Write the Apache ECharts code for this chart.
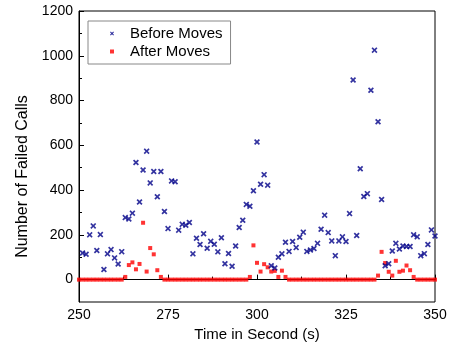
<!DOCTYPE html>
<html>
<head>
<meta charset="utf-8">
<script src="https://cdn.jsdelivr.net/npm/echarts@6/dist/echarts.min.js"></script>
<style>html,body{margin:0;padding:0;background:#fff;}#c{width:450px;height:354px;}</style>
</head>
<body>
<div id="c"></div>
<script>
var beforeSeconds = [251,252,253,254,255,256,257,258,259,260,261,262,263,264,265,266,267,268,269,270,271,272,273,274,275,276,277,278,279,280,281,282,283,284,285,286,287,288,289,290,291,292,293,294,295,296,297,298,299,300,301,302,303,304,305,306,307,308,309,310,311,312,313,314,315,316,317,318,319,320,321,322,323,324,325,326,327,328,329,330,331,332,333,334,335,336,337,338,339,340,341,342,343,344,345,346,347,348,349,350];
var beforeValues = [119,113,200,240,130,201,45,115,134,97,70,125,277,271,297,523,347,490,574,432,483,370,483,304,228,441,437,221,247,243,255,115,185,157,205,140,171,158,124,187,71,117,60,150,233,265,336,328,397,615,426,469,422,62,52,100,115,167,126,170,143,189,212,126,132,139,162,225,288,210,173,107,173,191,170,295,892,197,495,371,384,846,1025,705,358,62,71,128,162,137,150,148,148,200,191,107,116,157,222,195];
var afterSeconds = [250,251,252,253,254,255,256,257,258,259,260,261,262,263,264,265,266,267,268,269,270,271,272,273,274,275,276,277,278,279,280,281,282,283,284,285,286,287,288,289,290,291,292,293,294,295,296,297,298,299,300,301,302,303,304,305,306,307,308,309,310,311,312,313,314,315,316,317,318,319,320,321,322,323,324,325,326,327,328,329,330,331,332,333,334,335,336,337,338,339,340,341,342,343,344,345,346,347,348,349,350];
var afterValues = [0,0,0,0,0,0,0,0,0,0,0,0,0,12,65,77,46,70,254,36,141,113,42,12,0,0,0,0,0,0,0,0,0,0,0,0,0,0,0,0,0,0,0,0,0,0,0,0,12,153,75,36,69,55,36,39,12,40,12,0,0,0,0,0,0,0,0,0,0,0,0,0,0,0,0,0,0,0,0,0,0,0,0,0,18,124,74,35,18,84,35,40,63,42,12,0,0,0,0,0,0];
var xTicks = [250,275,300,325,350];
var yTicks = [0,200,400,600,800,1000,1200];
var yMinorTicks = [100,300,500,700,900,1100];

function pairs(xs, ys){ var o=[]; for(var i=0;i<xs.length;i++){ o.push([xs[i], ys[i]]); } return o; }

var xSym = 'path://M0,2L2,0L5,3L8,0L10,2L7,5L10,8L8,10L5,7L2,10L0,8L3,5Z';
var sqSym = 'path://M0,0L10,0L10,10L0,10Z';
var font = 'Liberation Sans';

var chart = echarts.init(document.getElementById('c'), null, {renderer:'canvas'});
chart.setOption({
  animation: false,
  backgroundColor: '#fff',
  grid: {left: 79, right: 15, top: 11, bottom: 52, show: true, borderColor: '#000', borderWidth: 1, containLabel: false},
  legend: {
    orient: 'vertical', left: 88, top: 21,
    padding: [5, 8, 5, 22], itemGap: 3,
    itemWidth: 26, itemHeight: 4,
    borderColor: '#888', borderWidth: 1,
    textStyle: {fontFamily: font, fontSize: 15, color: '#000'},
    data: [{name: 'Before Moves', icon: xSym}, {name: 'After Moves', icon: sqSym, itemStyle: {color: '#ff0000'}}]
  },
  xAxis: {
    type: 'value', min: 250, max: 350, interval: 25,
    name: 'Time in Second (s)', nameLocation: 'middle', nameGap: 18,
    nameTextStyle: {fontFamily: font, fontSize: 15, color: '#000'},
    axisLine: {lineStyle: {color: '#000', width: 1}},
    axisTick: {inside: true, length: 5, lineStyle: {color: '#000'}},
    minorTick: {show: true, splitNumber: 2, length: 3, lineStyle: {color: '#000'}},
    axisLabel: {fontFamily: font, fontSize: 14, color: '#000', margin: 6, customValues: xTicks, formatter: function(v){ return String(v); }},
    splitLine: {show: false}
  },
  yAxis: [{
    type: 'value', min: -100, max: 1200, interval: 100,
    name: 'Number of Failed Calls', nameLocation: 'middle', nameGap: 36,
    nameTextStyle: {fontFamily: font, fontSize: 16, color: '#000', padding: [0, 40, 0, 0]},
    axisLine: {show: true, lineStyle: {color: '#000', width: 1}},
    axisTick: {inside: true, length: 5, lineStyle: {color: '#000'}, customValues: yTicks},
    axisLabel: {fontFamily: font, fontSize: 14, color: '#000', margin: 6, customValues: yTicks, formatter: function(v){ return String(v); }},
    splitLine: {show: false}
  }, {
    type: 'value', min: -100, max: 1200, interval: 100, position: 'left',
    axisLine: {show: false},
    axisTick: {show: true, inside: true, length: 3, lineStyle: {color: '#000'}, customValues: yMinorTicks},
    axisLabel: {show: false},
    splitLine: {show: false}
  }],
  series: [{
    name: 'After Moves', type: 'scatter', yAxisIndex: 0,
    symbol: 'rect', symbolSize: 4,
    itemStyle: {color: '#ff0000'},
    data: pairs(afterSeconds, afterValues)
  }, {
    name: 'Before Moves', type: 'scatter', yAxisIndex: 0,
    symbol: xSym, symbolSize: 6,
    itemStyle: {color: '#000088'},
    data: pairs(beforeSeconds, beforeValues)
  }]
});
</script>
</body>
</html>
